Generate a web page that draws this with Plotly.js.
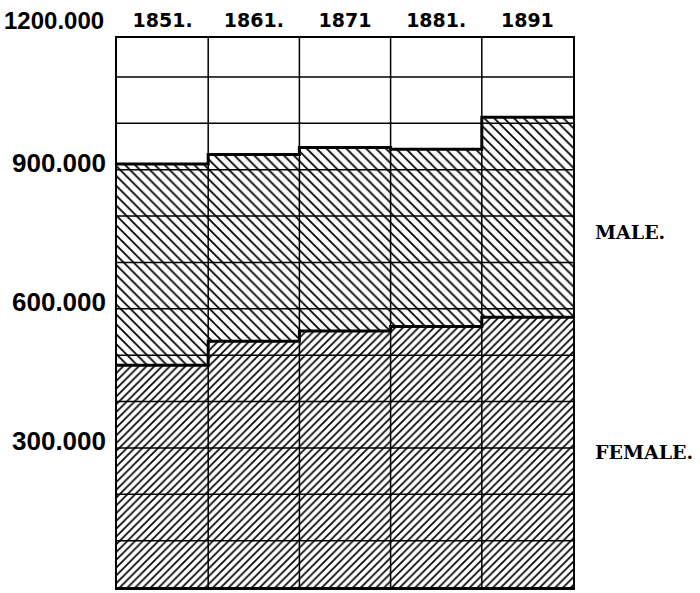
<!DOCTYPE html>
<html>
<head>
<meta charset="utf-8">
<script src="https://cdn.plot.ly/plotly-3.0.1.min.js"></script>
<style>
  body { margin: 0; background: #fff; }
  #chart { width: 700px; height: 593px; }
</style>
</head>
<body>
<div id="chart"></div>
<script>
// census years and population
var years = [1851, 1861, 1871, 1881, 1891];
var yearLabels = ['1851.', '1861.', '1871', '1881.', '1891'];
var female = [478000, 530000, 552000, 562000, 582000];
var male = [434000, 403000, 396000, 382000, 431000];
var yTicks = [300000, 600000, 900000];
var yTickText = ['300.000', '600.000', '900.000'];
var topLabel = '1200.000';

var total = female.map(function (f, i) { return f + male[i]; });

// step outlines along the tops of each band
function stepX() {
  var xs = [];
  years.forEach(function (y) { xs.push(y - 5, y + 5); });
  return xs;
}
function stepY(vals) {
  var ys = [];
  vals.forEach(function (v) { ys.push(v, v); });
  return ys;
}

var femaleBars = {
  x: years, y: female, type: 'bar', width: 10, name: 'Female',
  marker: {
    color: 'white',
    line: { width: 0 },
    pattern: { shape: '/', fgcolor: 'black', bgcolor: 'white', size: 5.5, solidity: 0.3 }
  },
  hoverinfo: 'skip'
};
var maleBars = {
  x: years, y: male, type: 'bar', width: 10, name: 'Male',
  marker: {
    color: 'white',
    line: { width: 0 },
    pattern: { shape: '\\', fgcolor: 'black', bgcolor: 'white', size: 7, solidity: 0.25 }
  },
  hoverinfo: 'skip'
};
var femaleTop = {
  x: stepX(), y: stepY(female), mode: 'lines', type: 'scatter',
  line: { color: 'black', width: 3 }, hoverinfo: 'skip'
};
var totalTop = {
  x: stepX(), y: stepY(total), mode: 'lines', type: 'scatter',
  line: { color: 'black', width: 3 }, hoverinfo: 'skip'
};

// grid drawn above the hatching
var shapes = [];
for (var g = 100000; g <= 1100000; g += 100000) {
  shapes.push({
    type: 'line', xref: 'paper', x0: 0, x1: 1, yref: 'y', y0: g, y1: g,
    line: { color: 'black', width: 1.5 }, layer: 'above'
  });
}
years.slice(0, -1).forEach(function (y) {
  shapes.push({
    type: 'line', xref: 'x', x0: y + 5, x1: y + 5, yref: 'paper', y0: 0, y1: 1,
    line: { color: 'black', width: 1.5 }, layer: 'above'
  });
});

var numFont = { family: 'Liberation Sans, Arial, sans-serif', size: 26, color: 'black', weight: 'bold' };

// y labels sit a little above their values, as in the print
var annotations = yTicks.map(function (v, i) {
  return {
    text: yTickText[i], xref: 'paper', yref: 'y', x: 0, y: v,
    xshift: -9, yshift: 7,
    xanchor: 'right', yanchor: 'middle', showarrow: false, font: numFont
  };
});
// the top value lies just above the frame
annotations.push({
  text: topLabel, xref: 'paper', yref: 'paper', x: 0, y: 1,
  xshift: -11, yshift: 18,
  xanchor: 'right', yanchor: 'middle', showarrow: false,
  font: { family: numFont.family, size: 24, color: 'black', weight: 'bold' }
});
annotations.push({
  text: 'MALE.', xref: 'paper', yref: 'paper', x: 1, xshift: 20, y: (593 - 6 - 232) / 549,
  xanchor: 'left', yanchor: 'middle', showarrow: false,
  font: { family: 'DejaVu Serif', size: 19, color: 'black', weight: 'bold' }
});
annotations.push({
  text: 'FEMALE.', xref: 'paper', yref: 'paper', x: 1, xshift: 20, y: (593 - 6 - 452) / 549,
  xanchor: 'left', yanchor: 'middle', showarrow: false,
  font: { family: 'DejaVu Serif', size: 19, color: 'black', weight: 'bold' }
});

var layout = {
  width: 700, height: 593,
  margin: { l: 117, r: 127, t: 38, b: 6 },
  paper_bgcolor: 'white', plot_bgcolor: 'white',
  barmode: 'stack', bargap: 0,
  showlegend: false,
  xaxis: {
    range: [1846, 1896], side: 'top',
    tickvals: years, ticktext: yearLabels,
    tickfont: { family: 'DejaVu Sans', size: 19, color: 'black', weight: 'bold' },
    ticks: '', ticklabelstandoff: 1,
    showgrid: false, zeroline: false,
    showline: true, mirror: true, linecolor: 'black', linewidth: 2.5,
    layer: 'above traces', fixedrange: true
  },
  yaxis: {
    range: [0, 1184000],
    tickvals: yTicks, showticklabels: false,
    ticks: '',
    showgrid: false, zeroline: false,
    showline: true, mirror: true, linecolor: 'black', linewidth: 2,
    layer: 'above traces', fixedrange: true
  },
  shapes: shapes,
  annotations: annotations
};

Plotly.newPlot('chart', [femaleBars, maleBars, femaleTop, totalTop], layout, { displayModeBar: false, staticPlot: true });
</script>
</body>
</html>
